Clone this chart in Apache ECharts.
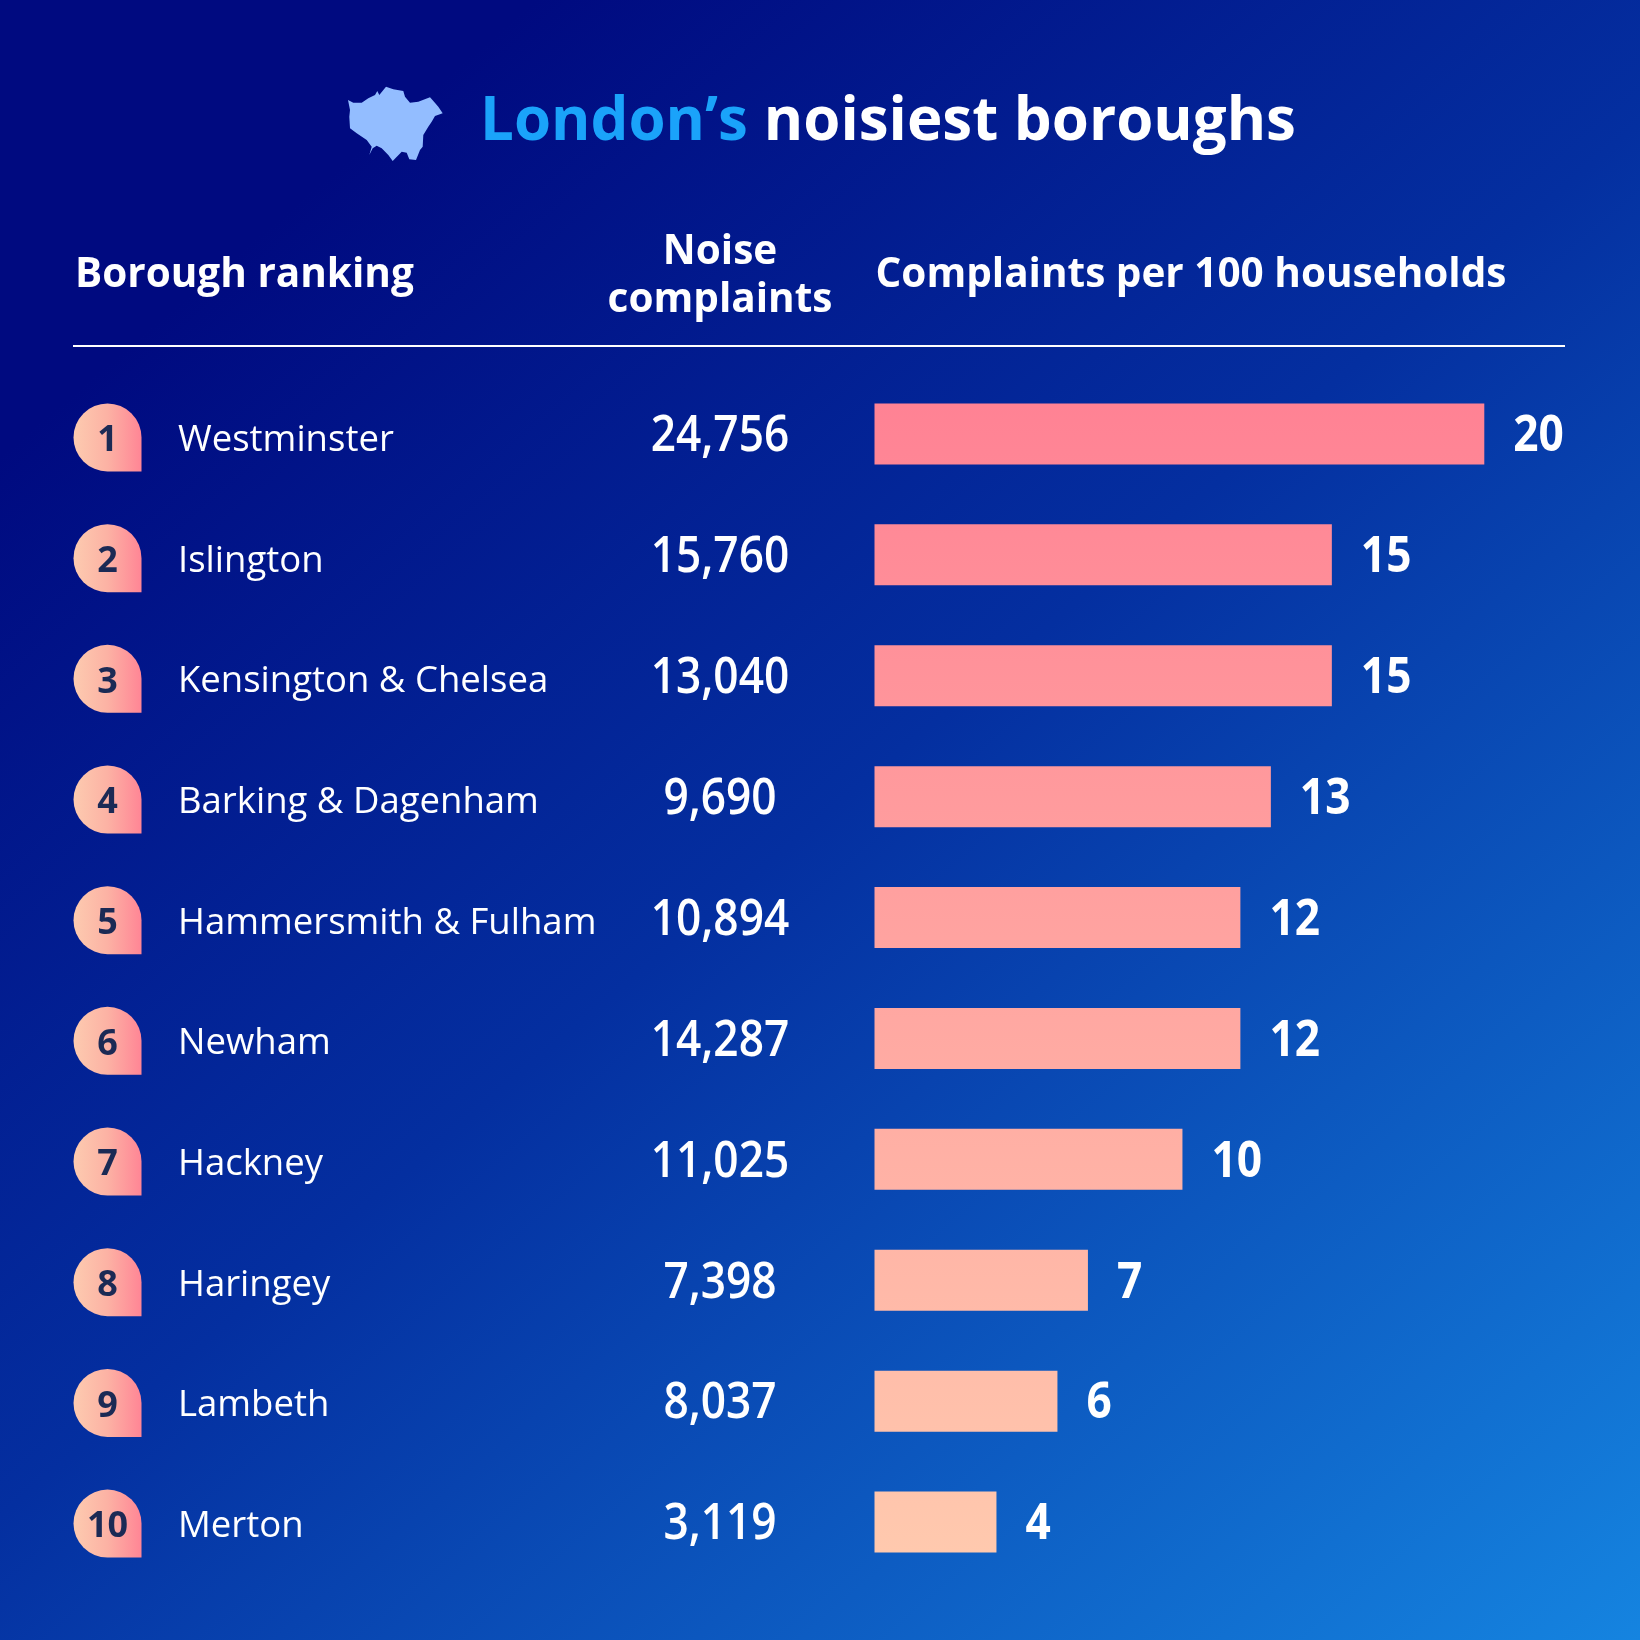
<!DOCTYPE html>
<html>
<head>
<meta charset="utf-8">
<title>London's noisiest boroughs</title>
<script src="https://cdn.jsdelivr.net/npm/echarts@6/dist/echarts.min.js"></script>
<style>
    html, body { margin: 0; padding: 0; }
    #chart { width: 1640px; height: 1640px; }
</style>
</head>
<body>
<div id="chart"></div>
<script>
var boroughs = ["Westminster", "Islington", "Kensington & Chelsea", "Barking & Dagenham", "Hammersmith & Fulham",
    "Newham", "Hackney", "Haringey", "Lambeth", "Merton"];
var complaints = [24756, 15760, 13040, 9690, 10894, 14287, 11025, 7398, 8037, 3119];
var perHundred = [20, 15, 15, 13, 12, 12, 10.1, 7, 6, 4]; // labels are rounded, Hackney's bar runs a bit past 10

var FONT = '"Open Sans", "Noto Sans", sans-serif';
var NUM_SQUEEZE = 0.885; // the figures in the original are a narrower cut

// silhouette of Greater London for the title icon
var LONDON_OUTLINE = [[348, 100], [353.3, 102.7], [361.7, 102.7], [368.3, 98.3], [375, 95], [377.3, 91], [379.3, 95],
    [386, 86.7], [393.3, 89.3], [403.3, 91], [405, 96.7], [410, 102.7], [418.3, 101.7], [430, 97.3], [434, 101.7],
    [438.3, 106.7], [442.7, 113.3], [435, 116], [431.7, 121.7], [428.3, 126.7], [423.3, 135], [422.7, 146.7], [420, 150],
    [416, 160], [409.3, 159.3], [406.7, 152.7], [401.7, 151.7], [392.7, 161], [388.3, 155], [381.7, 148.3], [376.7, 145.7],
    [372.7, 148.3], [369.3, 155], [371.7, 146.7], [366.7, 140], [356.7, 133.3], [350, 128.3], [349.3, 116.7], [350, 110]];

var chart = echarts.init(document.getElementById("chart"));

function renderRow(params, api) {
    var i = api.value(0);
    var cy = api.coord([0, i])[1];
    var badgeY = cy - 30.5 - i * 0.22; // badges sit a touch tighter than the bars
    return {
        type: "group",
        children: [
            {
                type: "path",
                shape: {
                    pathData: "M34 0 A34 34 0 0 1 68 34 L68 68 L34 68 A34 34 0 1 1 34 0 Z",
                    x: 73.5, y: badgeY, width: 68, height: 68
                },
                style: {
                    fill: new echarts.graphic.LinearGradient(0, 0, 1, 0, [
                        { offset: 0, color: "#fdcbb0" },
                        { offset: 0.5, color: "#fcb2a4" },
                        { offset: 1, color: "#ff8595" }
                    ])
                }
            },
            {
                type: "text",
                x: 107.5, y: badgeY + 37.5,
                style: {
                    text: String(i + 1), fill: "#1b2a55", font: "700 36px " + FONT,
                    textAlign: "center", textVerticalAlign: "middle"
                }
            },
            {
                type: "text",
                x: 178, y: badgeY + 37,
                style: {
                    text: boroughs[i], fill: "#ffffff", font: "400 36.5px " + FONT,
                    textAlign: "left", textVerticalAlign: "middle"
                }
            },
            {
                type: "text",
                x: 720, y: cy + 3,
                scaleX: NUM_SQUEEZE, scaleY: 1,
                style: {
                    text: complaints[i].toLocaleString("en-US"), fill: "#ffffff", font: "600 50px " + FONT,
                    textAlign: "center", textVerticalAlign: "middle"
                }
            }
        ]
    };
}

function renderValue(params, api) {
    var pt = api.coord([api.value(0), api.value(1)]);
    return {
        type: "text",
        x: pt[0] + 29, y: pt[1] + 3,
        scaleX: NUM_SQUEEZE, scaleY: 1,
        style: {
            text: String(Math.round(api.value(0))), fill: "#ffffff", font: "700 50px " + FONT,
            textAlign: "left", textVerticalAlign: "middle"
        }
    };
}

var option = {
    animation: false,
    backgroundColor: new echarts.graphic.LinearGradient(0, 0, 0.913, 1.074, [
        { offset: 0, color: "#000a80" },
        { offset: 0.15, color: "#000a80" },
        { offset: 0.5, color: "#042fa0" },
        { offset: 1, color: "#1584e0" }
    ]),
    title: {
        text: "{a|London’s}{b|noisiest boroughs}",
        left: 475, top: 88,
        textStyle: {
            rich: {
                a: { color: "#1aa3fa", fontFamily: FONT, fontWeight: 700, fontSize: 60 },
                b: { color: "#ffffff", fontFamily: FONT, fontWeight: 700, fontSize: 60, padding: [0, 0, 0, 16] }
            }
        }
    },
    grid: { left: 874.5, top: 373.5, width: 609.8, height: 1209 },
    xAxis: { type: "value", min: 0, max: 20, show: false },
    yAxis: { type: "category", inverse: true, data: boroughs, show: false },
    series: [
        {
            type: "bar",
            data: perHundred,
            barWidth: 61,
            silent: true,
            itemStyle: {
                color: {
                    type: "linear", global: true, x: 0, y: 404, x2: 0, y2: 1553,
                    colorStops: [{ offset: 0, color: "#ff8294" }, { offset: 1, color: "#ffc9ae" }]
                }
            }
        },
        {
            type: "custom",
            silent: true,
            coordinateSystem: "cartesian2d",
            data: boroughs.map(function (b, i) { return [i]; }),
            encode: { y: 0 },
            renderItem: renderRow,
            clip: false
        },
        {
            type: "custom",
            silent: true,
            coordinateSystem: "cartesian2d",
            data: perHundred.map(function (v, i) { return [v, i]; }),
            encode: { x: 0, y: 1 },
            renderItem: renderValue,
            clip: false
        }
    ],
    graphic: [
        {
            type: "polygon",
            shape: { points: LONDON_OUTLINE },
            style: { fill: "#93bdff" }
        },
        {
            type: "text", x: 75, y: 275,
            style: { text: "Borough ranking", fill: "#fff", font: "700 40.5px " + FONT, textVerticalAlign: "middle" }
        },
        {
            type: "text", x: 720, y: 276,
            style: {
                text: "Noise\ncomplaints", fill: "#fff", font: "700 40.5px " + FONT, lineHeight: 48,
                textAlign: "center", textVerticalAlign: "middle"
            }
        },
        {
            type: "text", x: 875.5, y: 275,
            style: { text: "Complaints per 100 households", fill: "#fff", font: "700 40.5px " + FONT, textVerticalAlign: "middle" }
        },
        {
            type: "line",
            shape: { x1: 73, y1: 346, x2: 1565, y2: 346 },
            style: { stroke: "#ffffff", lineWidth: 2 }
        }
    ]
};
chart.setOption(option);
</script>
</body>
</html>
